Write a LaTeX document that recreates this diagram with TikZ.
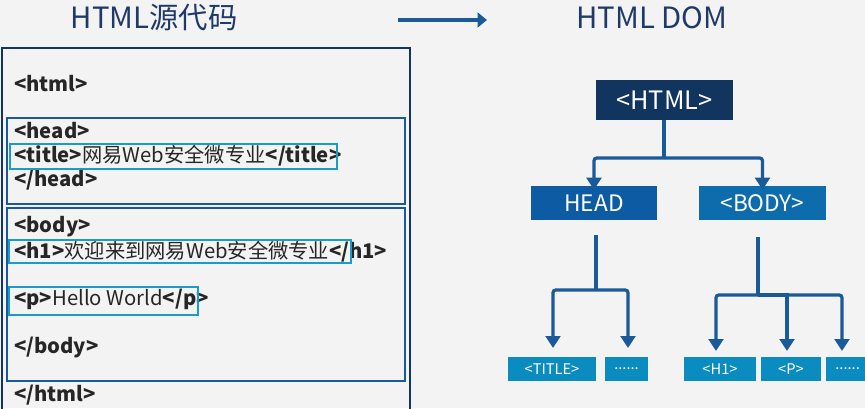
\documentclass[tikz,border=0pt]{standalone}
\usepackage{fontspec}
\setmainfont{Noto Sans CJK SC}
\usetikzlibrary{arrows.meta}
\definecolor{navy}{HTML}{12355F}
\definecolor{cnavy}{HTML}{1F3A68}
\definecolor{mblue}{HTML}{1A5A9A}
\definecolor{hblue}{HTML}{0D5CA3}
\definecolor{cyanb}{HTML}{1A9CC7}
\definecolor{leaf}{HTML}{0B8CC0}
\definecolor{bg}{HTML}{F3F3F3}
\definecolor{txt}{HTML}{262626}
\begin{document}
\begin{tikzpicture}[x=0.75pt,y=-0.75pt,
  code/.style={anchor=west,inner sep=0pt,text=txt,font=\fontsize{15.2}{16}\selectfont},
  hl/.style={draw=cyanb,line width=1.6pt},
  sect/.style={draw=mblue,line width=1.8pt},
  dnode/.style={fill=hblue,text=white,minimum height=25.5pt,inner sep=0pt,font=\fontsize{17}{17}\selectfont},
  leafn/.style={fill=leaf,text=white,minimum height=18pt,inner sep=0pt,font=\fontsize{11}{11}\selectfont},
  conn/.style={draw=mblue,line width=2.4pt},
  arr/.style={conn,-{Triangle[length=9pt,width=11pt]}}]
\fill[bg] (0,0) rectangle (865,408);
\useasboundingbox (0,0) rectangle (865,408);
% titles
\node[text=cnavy,font=\fontsize{22}{23}\selectfont] (t1) at (154,18) {HTML源代码};
\node[text=cnavy,font=\fontsize{22}{23}\selectfont] (t2) at (652,18) {HTML DOM};
\coordinate (a1) at (398,20); \coordinate (a2) at (487,20);
\draw[line width=3.5pt,draw=mblue,-{Triangle[length=7pt,width=11pt]}] (a1) -- (a2);
% source box
\draw[draw=navy,line width=2pt] (2,410) -- (2,48) -- (410,48) -- (410,410);
\draw[sect] (7,118) rectangle (405,204);
\draw[sect] (7,208) rectangle (405,381);
\node[code] (l1) at (14,84) {\textbf{<html>}};
\node[code] (l2) at (14,131) {\textbf{<head>}};
\node[code] (l3) at (14,156) {\textbf{<title>}网易Web安全微专业\textbf{</title>}};
\node[code] (l4) at (14,180) {\textbf{</head>}};
\node[code] (l5) at (14,227) {\textbf{<body>}};
\node[code] (l6) at (14,252) {\textbf{<h1>}欢迎来到网易Web安全微专业\textbf{</h1>}};
\node[code] (l7) at (14,299) {\textbf{<p>}Hello World\textbf{</p>}};
\node[code] (l8) at (14,347) {\textbf{</body>}};
\node[code] (l9) at (14,395) {\textbf{</html>}};
\draw[hl] (10,144) rectangle (337,169);
\draw[hl] (9,240) rectangle (351,263);
\draw[hl] (9,287) rectangle (198,315);
% DOM
\node[dnode,fill=navy,minimum width=103pt,minimum height=30pt,font=\fontsize{19}{19}\selectfont] (html) at (664.5,100) {<HTML>};
\node[dnode,minimum width=94.5pt] (head) at (594,203) {HEAD};
\node[dnode,fill=hblue!90!cyan,minimum width=95pt] (body) at (762.5,203) {<BODY>};
\node[leafn,minimum width=66pt] (title) at (552,369) {<TITLE>};
\node[leafn,minimum width=32pt] (d1) at (626.5,369) {......};
\node[leafn,minimum width=54pt] (h1) at (720,369) {<H1>};
\node[leafn,minimum width=45pt] (p) at (791,369) {<P>};
\node[leafn,minimum width=32pt,anchor=west] (d2) at (826,369) {......};
% connectors
\coordinate (j0) at (664,158);
\draw[conn] (html.south -| j0) -- (j0);
\draw[arr,rounded corners=2pt] (j0) -| ([yshift=-3pt]head.north);
\draw[arr,rounded corners=2pt] (j0) -| ([yshift=-3pt]body.north);
\coordinate (j1) at (596,290);
\coordinate (j1t) at (596,235);
\draw[conn] (j1t) -- (j1);
\draw[arr,rounded corners=2pt] (j1) -| (553,348);
\draw[arr,rounded corners=2pt] (j1) -| (628,348);
\coordinate (j2) at (758,295);
\coordinate (j2t) at (758,237);
\draw[conn] (j2t) -- (j2);
\draw[arr,rounded corners=2pt] (j2) -| (716,351);
\draw[arr] (j2) -| (787,351);
\draw[arr,rounded corners=2pt] (j2) -| (842,351);
\end{tikzpicture}
\end{document}
